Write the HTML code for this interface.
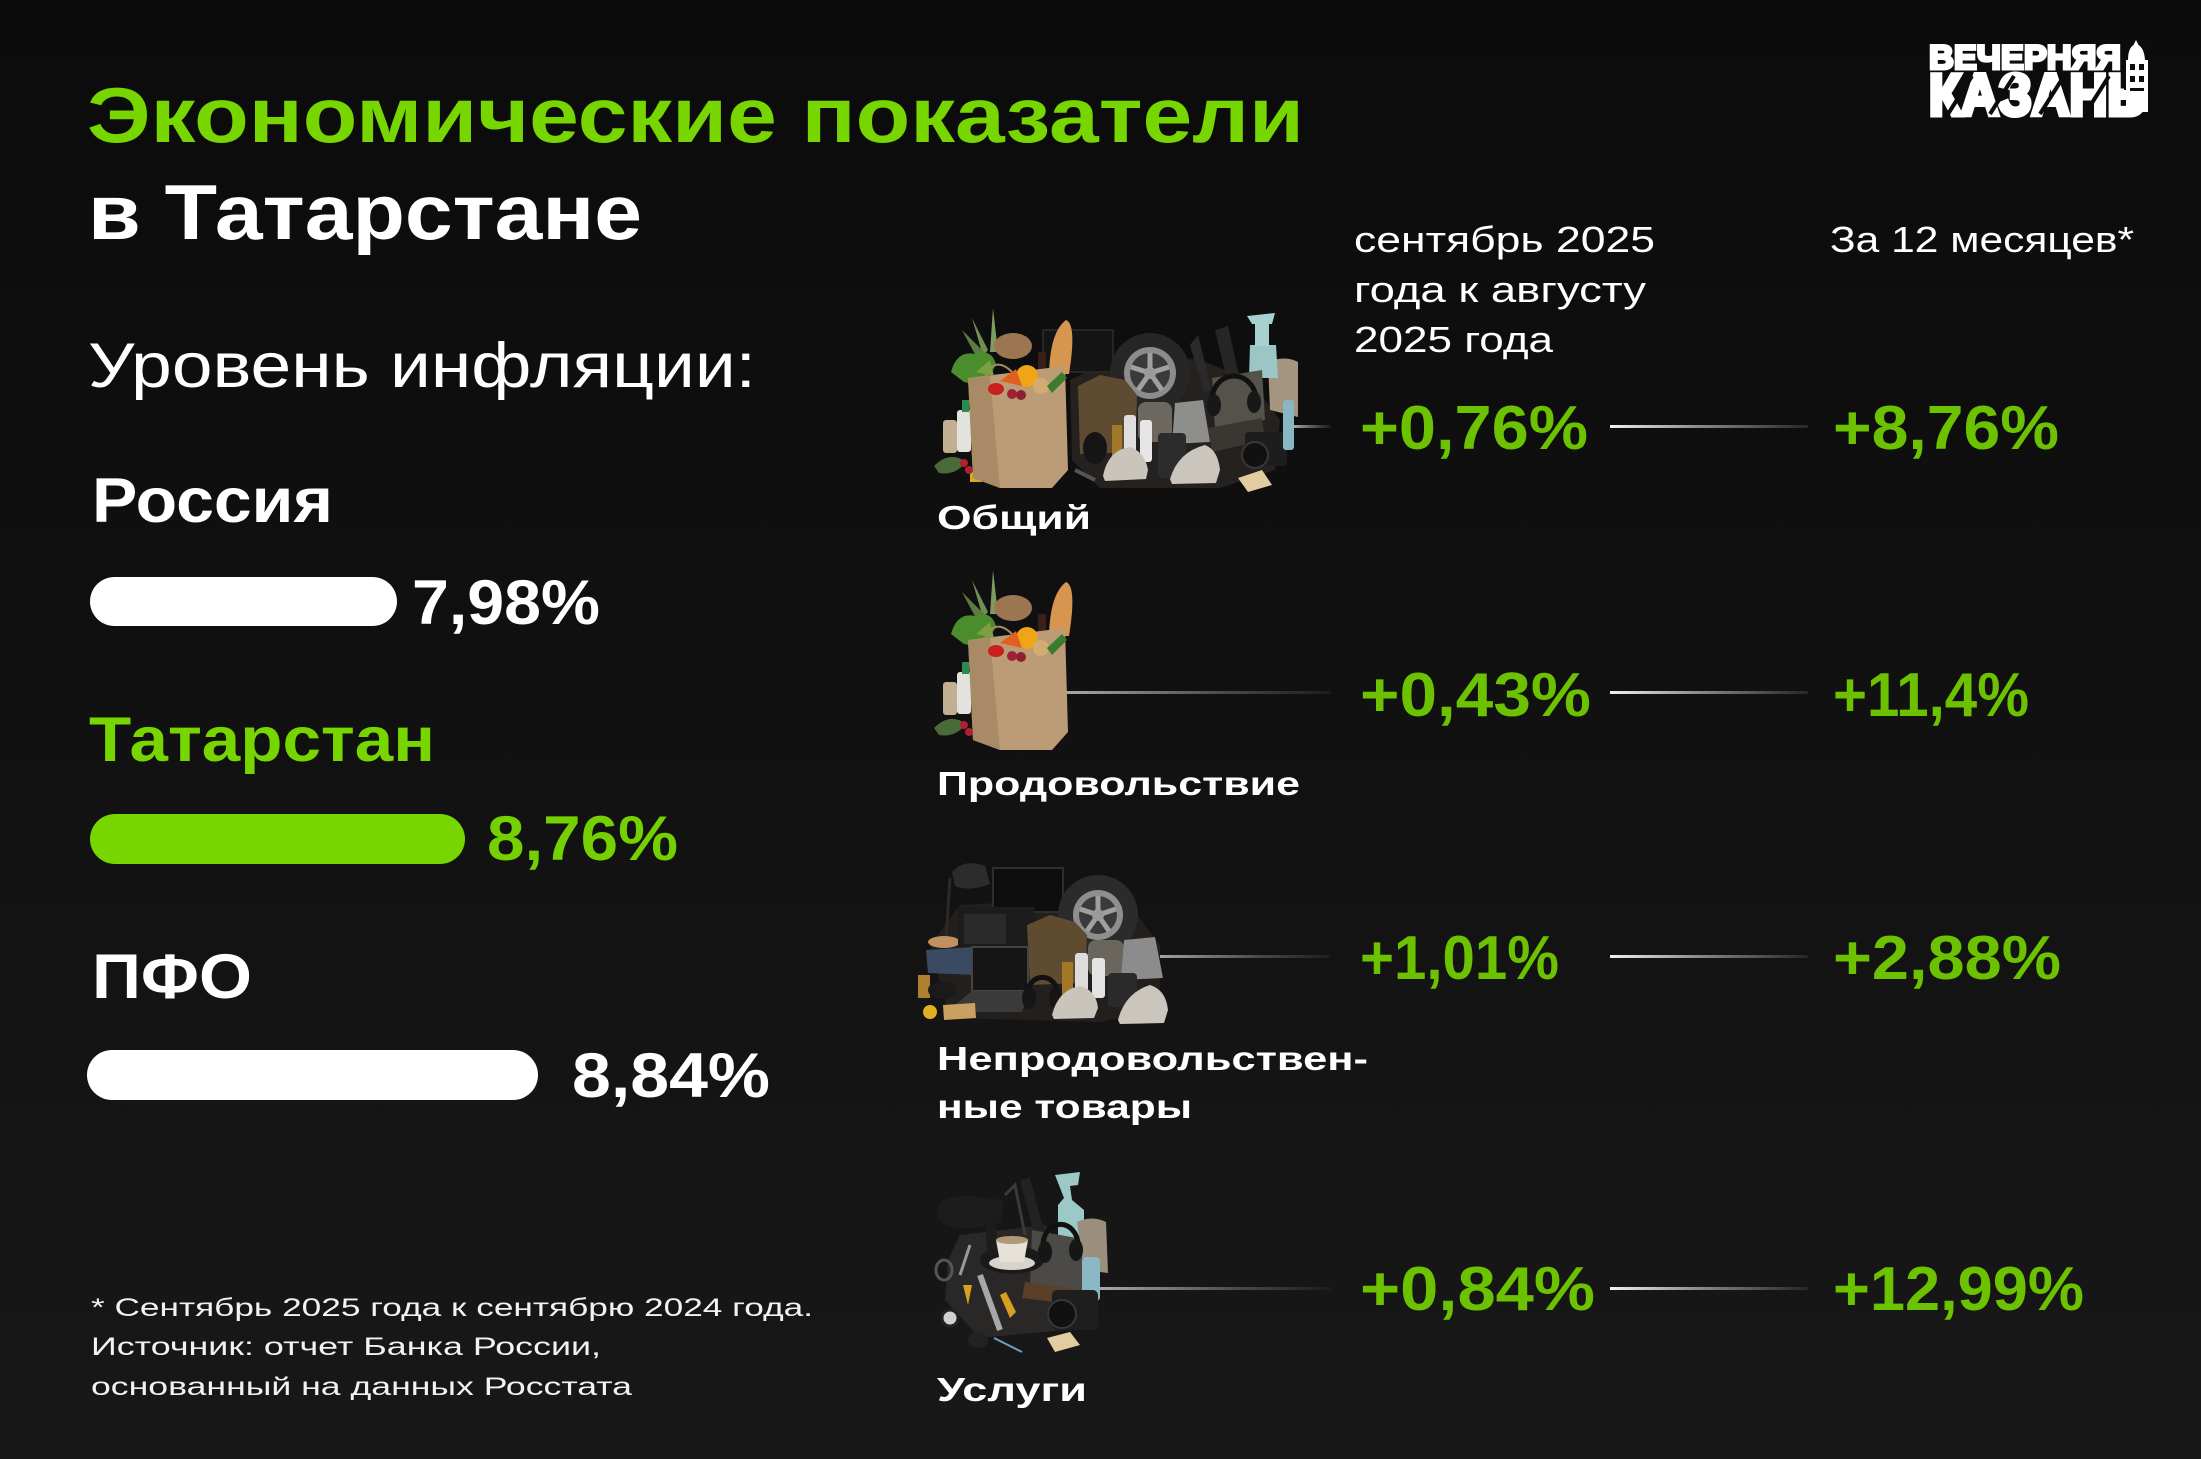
<!DOCTYPE html>
<html>
<head>
<meta charset="utf-8">
<style>
html,body{margin:0;padding:0;background:#0f0f0f;}
svg{display:block;}
text{font-family:"Liberation Sans","DejaVu Sans",sans-serif;}
.b{font-weight:bold;}
</style>
</head>
<body>
<svg width="2201" height="1459" viewBox="0 0 2201 1459" xmlns="http://www.w3.org/2000/svg">
<defs>
  <linearGradient id="bg" x1="0" y1="0" x2="0" y2="1">
    <stop offset="0" stop-color="#0b0b0b"/>
    <stop offset="0.5" stop-color="#111111"/>
    <stop offset="1" stop-color="#181818"/>
  </linearGradient>
  <linearGradient id="lr" x1="0" y1="0" x2="1" y2="0">
    <stop offset="0" stop-color="#f2f2f2"/>
    <stop offset="0.45" stop-color="#8a8a8a"/>
    <stop offset="1" stop-color="#262626"/>
  </linearGradient>
  <linearGradient id="ll" x1="0" y1="0" x2="1" y2="0">
    <stop offset="0" stop-color="#a8a8a8"/>
    <stop offset="0.6" stop-color="#4a4a4a"/>
    <stop offset="1" stop-color="#1c1c1c"/>
  </linearGradient>
  <g id="food">
    <path d="M983 356 L972 318 L988 350 Z" fill="#6f8f52"/>
    <path d="M990 352 L993 308 L998 352 Z" fill="#7c9c62"/>
    <path d="M978 360 L962 330 L984 352 Z" fill="#5c7a44"/>
    <ellipse cx="1013" cy="346" rx="19" ry="13" fill="#9c7650"/>
    <path d="M1049 374 Q1050 332 1066 320 Q1077 324 1069 374 Z" fill="#d69650"/>
    <rect x="1038" y="352" width="8" height="26" fill="#3a2018"/>
    <path d="M951 372 Q957 350 975 354 Q991 348 996 364 Q986 388 964 382 Z" fill="#4b8c2c"/>
    <rect x="943" y="420" width="14" height="33" rx="3" fill="#c2ae90"/>
    <rect x="957" y="410" width="14" height="42" rx="3" fill="#e2e2de"/>
    <rect x="962" y="400" width="7" height="12" fill="#2a8a50"/>
    <path d="M968 378 L1065 366 L1068 470 L1052 488 L1000 488 L973 478 Z" fill="#bb9c76"/>
    <path d="M968 378 L990 376 L1000 488 L973 478 Z" fill="#a88a66"/>
    <path d="M985 377 Q995 355 1012 372" stroke="#a88a66" stroke-width="2" fill="none"/>
    <circle cx="1027" cy="376" r="11" fill="#f0a418"/>
    <circle cx="1041" cy="386" r="8" fill="#d2ac72"/>
    <ellipse cx="996" cy="389" rx="8" ry="6" fill="#c8201c"/>
    <circle cx="1012" cy="394" r="5" fill="#a02038"/>
    <circle cx="1021" cy="395" r="5" fill="#902030"/>
    <path d="M1047 386 L1062 372 L1067 378 L1052 393Z" fill="#3c7a2c"/>
    <path d="M1000 381 L1016 369 L1022 386Z" fill="#e06020"/>
    <path d="M976 372 L990 360 L994 376Z" fill="#7aa040"/>
    <path d="M934 466 Q950 450 966 462 Q955 476 939 473Z" fill="#4a6a3a"/>
    <circle cx="964" cy="463" r="4" fill="#b02030"/>
    <circle cx="969" cy="470" r="4" fill="#b02030"/>
  </g>
</defs>

<rect x="0" y="0" width="2201" height="1459" fill="url(#bg)"/>

<!-- Title -->
<text x="87" y="142" font-size="78" class="b" fill="#77d500" textLength="1217" lengthAdjust="spacingAndGlyphs">Экономические показатели</text>
<text x="88" y="239" font-size="78" class="b" fill="#ffffff" textLength="554" lengthAdjust="spacingAndGlyphs">в Татарстане</text>
<text x="88" y="387" font-size="63" fill="#ffffff" textLength="668" lengthAdjust="spacingAndGlyphs">Уровень инфляции:</text>

<!-- Left bars -->
<text x="92" y="522" font-size="63" class="b" fill="#ffffff" textLength="241" lengthAdjust="spacingAndGlyphs">Россия</text>
<rect x="90" y="577" width="307" height="49" rx="24.5" fill="#ffffff"/>
<text x="412" y="624" font-size="63" class="b" fill="#ffffff" textLength="188" lengthAdjust="spacingAndGlyphs">7,98%</text>

<text x="89" y="761" font-size="63" class="b" fill="#77d500" textLength="346" lengthAdjust="spacingAndGlyphs">Татарстан</text>
<rect x="90" y="814" width="375" height="50" rx="25" fill="#77d500"/>
<text x="487" y="860" font-size="63" class="b" fill="#74d000" textLength="191" lengthAdjust="spacingAndGlyphs">8,76%</text>

<text x="92" y="998" font-size="63" class="b" fill="#ffffff" textLength="160" lengthAdjust="spacingAndGlyphs">ПФО</text>
<rect x="87" y="1050" width="451" height="50" rx="25" fill="#ffffff"/>
<text x="572" y="1097" font-size="63" class="b" fill="#ffffff" textLength="198" lengthAdjust="spacingAndGlyphs">8,84%</text>

<!-- Footnote -->
<text x="91" y="1316" font-size="25" fill="#f2f2f2" textLength="722" lengthAdjust="spacingAndGlyphs">* Сентябрь 2025 года к сентябрю 2024 года.</text>
<text x="91" y="1355" font-size="25" fill="#f2f2f2" textLength="510" lengthAdjust="spacingAndGlyphs">Источник: отчет Банка России,</text>
<text x="91" y="1395" font-size="25" fill="#f2f2f2" textLength="541" lengthAdjust="spacingAndGlyphs">основанный на данных Росстата</text>

<!-- Column headers -->
<text x="1354" y="252" font-size="36" fill="#ffffff" textLength="301" lengthAdjust="spacingAndGlyphs">сентябрь 2025</text>
<text x="1354" y="302" font-size="36" fill="#ffffff" textLength="292" lengthAdjust="spacingAndGlyphs">года к августу</text>
<text x="1354" y="352" font-size="36" fill="#ffffff" textLength="199" lengthAdjust="spacingAndGlyphs">2025 года</text>
<text x="1830" y="252" font-size="36" fill="#ffffff" textLength="304" lengthAdjust="spacingAndGlyphs">За 12 месяцев*</text>

<!-- Logo -->
<text x="1929" y="69" font-size="34" class="b" fill="#ffffff" stroke="#ffffff" stroke-width="3" textLength="192" lengthAdjust="spacingAndGlyphs">ВЕЧЕРНЯЯ</text>
<text x="1929" y="115" font-size="58" class="b" fill="#ffffff" stroke="#ffffff" stroke-width="5" textLength="216" lengthAdjust="spacingAndGlyphs">КАЗАНЬ</text>
<g stroke="#0c0c0c" stroke-width="4">
  <line x1="1948" y1="114" x2="1972" y2="76"/>
  <line x1="1990" y1="114" x2="2014" y2="76"/>
  <line x1="2040" y1="114" x2="2064" y2="76"/>
  <line x1="2085" y1="114" x2="2109" y2="76"/>
</g>
<g>
  <rect x="2124" y="38" width="28" height="52" fill="#0c0c0c"/>
  <path d="M2136 40 L2139 46 L2133 46 Z" fill="#ffffff"/>
  <path d="M2128 60 Q2128 46 2136 44 Q2144 46 2145 60 Z" fill="#ffffff"/>
  <rect x="2126" y="60" width="22" height="52" fill="#ffffff"/>
  <rect x="2130" y="64" width="5" height="6" fill="#0c0c0c"/>
  <rect x="2139" y="64" width="5" height="6" fill="#0c0c0c"/>
  <rect x="2130" y="76" width="5" height="6" fill="#0c0c0c"/>
  <rect x="2139" y="76" width="5" height="6" fill="#0c0c0c"/>
  <rect x="2130" y="88" width="14" height="3" fill="#0c0c0c"/>
</g>

<!-- Connector lines -->
<rect x="1294" y="425" width="37" height="3" fill="url(#ll)"/>
<rect x="1066" y="691" width="265" height="3" fill="url(#ll)"/>
<rect x="1153" y="955" width="178" height="3" fill="url(#ll)"/>
<rect x="1099" y="1287" width="232" height="3" fill="url(#ll)"/>
<rect x="947" y="1286" width="13" height="3" fill="#e0e0e0"/>

<rect x="1610" y="425" width="198" height="3" fill="url(#lr)"/>
<rect x="1610" y="691" width="198" height="3" fill="url(#lr)"/>
<rect x="1610" y="955" width="198" height="3" fill="url(#lr)"/>
<rect x="1610" y="1287" width="198" height="3" fill="url(#lr)"/>

<!-- Values -->
<g class="b" font-size="62" fill="#6cc200">
  <text x="1360" y="449" class="b" textLength="228" lengthAdjust="spacingAndGlyphs">+0,76%</text>
  <text x="1833" y="449" class="b" textLength="226" lengthAdjust="spacingAndGlyphs">+8,76%</text>
  <text x="1360" y="716" class="b" textLength="231" lengthAdjust="spacingAndGlyphs">+0,43%</text>
  <text x="1833" y="716" class="b" textLength="196" lengthAdjust="spacingAndGlyphs">+11,4%</text>
  <text x="1360" y="979" class="b" textLength="199" lengthAdjust="spacingAndGlyphs">+1,01%</text>
  <text x="1833" y="979" class="b" textLength="228" lengthAdjust="spacingAndGlyphs">+2,88%</text>
  <text x="1360" y="1310" class="b" textLength="235" lengthAdjust="spacingAndGlyphs">+0,84%</text>
  <text x="1833" y="1310" class="b" textLength="251" lengthAdjust="spacingAndGlyphs">+12,99%</text>
</g>

<!-- Category labels -->
<g font-size="33" fill="#ffffff">
  <text x="937" y="529" class="b" textLength="154" lengthAdjust="spacingAndGlyphs">Общий</text>
  <text x="937" y="795" class="b" textLength="363" lengthAdjust="spacingAndGlyphs">Продовольствие</text>
  <text x="937" y="1070" class="b" textLength="431" lengthAdjust="spacingAndGlyphs">Непродовольствен-</text>
  <text x="937" y="1118" class="b" textLength="255" lengthAdjust="spacingAndGlyphs">ные товары</text>
  <text x="937" y="1401" class="b" textLength="150" lengthAdjust="spacingAndGlyphs">Услуги</text>
</g>

<!-- Image 1: general -->
<g>
  <path d="M1070 380 L1130 350 L1200 360 L1250 380 L1280 420 L1275 470 L1220 488 L1100 488 L1072 460Z" fill="#24211e"/>
  <rect x="1043" y="330" width="70" height="42" fill="#141414" stroke="#262626" stroke-width="2"/>
  <circle cx="1150" cy="373" r="40" fill="#262626"/>
  <circle cx="1150" cy="373" r="26" fill="#8c8c8c"/>
  <circle cx="1150" cy="373" r="20" fill="#3a3a3a"/>
  <g stroke="#a0a0a0" stroke-width="5">
    <line x1="1150" y1="373" x2="1150" y2="353"/>
    <line x1="1150" y1="373" x2="1169" y2="367"/>
    <line x1="1150" y1="373" x2="1162" y2="390"/>
    <line x1="1150" y1="373" x2="1138" y2="390"/>
    <line x1="1150" y1="373" x2="1131" y2="367"/>
  </g>
  <circle cx="1150" cy="373" r="6" fill="#9a9a9a"/>
  <path d="M1190 345 L1198 335 L1212 390 L1204 392Z" fill="#2a2a2a"/>
  <path d="M1215 330 L1228 326 L1240 380 L1228 384Z" fill="#262626"/>
  <path d="M1268 362 Q1285 355 1298 362 L1298 417 L1270 410Z" fill="#a39580"/>
  <path d="M1250 345 L1276 345 L1278 378 L1249 378Z" fill="#9cc6c6"/>
  <rect x="1255" y="322" width="14" height="24" fill="#a8d0d0"/>
  <path d="M1247 316 L1275 313 L1272 324 L1252 324Z" fill="#a8d0d0"/>
  <path d="M1212 378 L1262 370 L1265 420 L1215 430Z" fill="#55524c"/>
  <path d="M1208 428 L1262 418 L1265 440 L1212 452Z" fill="#3a3632"/>
  <path d="M1212 400 A22 24 0 0 1 1256 400" stroke="#111" stroke-width="5" fill="none"/>
  <ellipse cx="1214" cy="405" rx="7" ry="11" fill="#181818"/>
  <ellipse cx="1254" cy="402" rx="7" ry="11" fill="#181818"/>
  <path d="M1078 386 L1100 375 L1125 380 L1137 395 L1135 452 L1080 454 Z" fill="#5e4b32"/>
  <rect x="1138" y="402" width="34" height="40" rx="8" fill="#6c6860"/>
  <path d="M1175 403 L1203 400 L1210 442 L1172 444Z" fill="#8e8e8c"/>
  <rect x="1112" y="425" width="10" height="33" fill="#a07828"/>
  <rect x="1124" y="415" width="12" height="45" rx="3" fill="#dedede"/>
  <rect x="1140" y="420" width="12" height="42" rx="3" fill="#e6e6e6"/>
  <ellipse cx="1095" cy="448" rx="12" ry="16" fill="#151515"/>
  <rect x="1158" y="433" width="28" height="45" rx="4" fill="#2c2c2c"/>
  <path d="M1103 476 Q1108 450 1130 447 Q1145 452 1148 470 L1146 479 L1105 481Z" fill="#c9c5bd"/>
  <path d="M1170 479 Q1178 452 1205 445 Q1218 450 1220 470 L1216 483 L1172 484Z" fill="#cac6be"/>
  <rect x="1245" y="432" width="42" height="34" rx="4" fill="#1d1d1d"/>
  <circle cx="1255" cy="455" r="13" fill="#111" stroke="#383838" stroke-width="2"/>
  <rect x="1283" y="400" width="11" height="50" rx="3" fill="#88b6c2"/>
  <path d="M1238 478 L1262 470 L1272 485 L1248 492Z" fill="#e2cda0"/>
  <line x1="1075" y1="470" x2="1095" y2="480" stroke="#555" stroke-width="4"/>
  <rect x="970" y="468" width="12" height="14" fill="#d8a820"/>
  <use href="#food"/>
</g>

<!-- Image 2: food -->
<use href="#food" transform="translate(0,262)"/>

<!-- Image 3: non-food -->
<g>
  <path d="M930 945 L960 905 L1060 900 L1130 905 L1160 945 L1160 1010 L1100 1022 L950 1018Z" fill="#221f1c"/>
  <line x1="946" y1="940" x2="950" y2="878" stroke="#2a2a2a" stroke-width="3"/>
  <path d="M952 872 Q965 858 985 866 L990 884 Q970 892 955 886Z" fill="#2c2c2c"/>
  <ellipse cx="944" cy="942" rx="16" ry="6" fill="#c09060"/>
  <rect x="993" y="868" width="70" height="44" fill="#0e0e0e" stroke="#2e2e2e" stroke-width="2"/>
  <rect x="958" y="907" width="77" height="43" fill="#1c1c1c"/>
  <rect x="964" y="914" width="42" height="30" fill="#2a2a2a"/>
  <circle cx="1098" cy="915" r="40" fill="#2b2b2b"/>
  <circle cx="1098" cy="915" r="25" fill="#8e8e8e"/>
  <circle cx="1098" cy="915" r="19" fill="#3a3a3a"/>
  <g stroke="#a0a0a0" stroke-width="5">
    <line x1="1098" y1="915" x2="1098" y2="896"/>
    <line x1="1098" y1="915" x2="1116" y2="909"/>
    <line x1="1098" y1="915" x2="1109" y2="931"/>
    <line x1="1098" y1="915" x2="1087" y2="931"/>
    <line x1="1098" y1="915" x2="1080" y2="909"/>
  </g>
  <circle cx="1098" cy="915" r="6" fill="#9a9a9a"/>
  <path d="M926 950 L975 947 L975 975 L928 973Z" fill="#3a4a62"/>
  <path d="M1027 925 L1050 915 L1075 922 L1087 935 L1085 983 L1030 985Z" fill="#5e4b30"/>
  <rect x="1088" y="940" width="36" height="36" rx="8" fill="#6a665e"/>
  <path d="M1124 940 L1155 937 L1163 978 L1121 980Z" fill="#8c8c8c"/>
  <rect x="972" y="947" width="56" height="44" fill="#151515" stroke="#444" stroke-width="2"/>
  <path d="M972 991 L1030 991 L1022 1012 L946 1012Z" fill="#3a3a3a"/>
  <path d="M1027 995 A15 17 0 0 1 1058 995" stroke="#111" stroke-width="5" fill="none"/>
  <ellipse cx="1029" cy="998" rx="7" ry="11" fill="#161616"/>
  <ellipse cx="1056" cy="998" rx="7" ry="11" fill="#161616"/>
  <rect x="1062" y="962" width="11" height="36" fill="#a07828"/>
  <rect x="1075" y="953" width="13" height="45" rx="3" fill="#dcdcdc"/>
  <rect x="1092" y="958" width="13" height="40" rx="3" fill="#e4e4e4"/>
  <rect x="1108" y="973" width="29" height="34" rx="4" fill="#2a2a2a"/>
  <path d="M1052 1015 Q1058 990 1080 986 Q1096 990 1098 1008 L1094 1018 L1054 1019Z" fill="#c9c5bd"/>
  <path d="M1118 1020 Q1125 993 1150 985 Q1166 990 1168 1010 L1164 1023 L1120 1024Z" fill="#cac6be"/>
  <rect x="918" y="975" width="12" height="23" fill="#b08030"/>
  <ellipse cx="942" cy="990" rx="14" ry="9" fill="#1a1a1a"/>
  <circle cx="930" cy="1012" r="7" fill="#e0b020"/>
  <path d="M943 1005 L975 1003 L976 1018 L944 1020Z" fill="#c8a060"/>
</g>

<!-- Image 4: services -->
<g>
  <path d="M960 1235 L1045 1225 L1070 1260 L1065 1330 L980 1338 L945 1300 L948 1260Z" fill="#2a2826"/>
  <path d="M1055 1175 L1080 1172 L1078 1185 L1070 1186 L1072 1200 L1084 1210 L1084 1238 L1058 1238 L1058 1205 L1064 1198Z" fill="#9cc8c8"/>
  <path d="M1020 1180 L1030 1178 L1045 1235 L1035 1238Z" fill="#222"/>
  <path d="M1032 1230 L1088 1240 L1082 1292 L1030 1285Z" fill="#4c4a46"/>
  <path d="M1025 1282 L1082 1290 L1078 1305 L1022 1298Z" fill="#5a4028"/>
  <path d="M1077 1222 Q1092 1215 1106 1222 L1108 1273 L1084 1270Z" fill="#9a8e7c"/>
  <path d="M937 1210 Q940 1195 970 1196 L1003 1200 L1002 1222 L975 1228 Q945 1230 937 1218Z" fill="#1c1c1c"/>
  <path d="M985 1222 L995 1222 L1000 1255 L988 1256Z" fill="#1c1c1c"/>
  <path d="M1005 1195 L1015 1185 L1025 1235" stroke="#3a3a3a" stroke-width="3" fill="none"/>
  <ellipse cx="1012" cy="1260" rx="32" ry="14" fill="#1a1a1a"/>
  <ellipse cx="1012" cy="1263" rx="23" ry="7" fill="#d8d4cc"/>
  <path d="M996 1240 L1028 1240 L1024 1262 L1000 1262Z" fill="#e6e2da"/>
  <ellipse cx="1012" cy="1240" rx="16" ry="4" fill="#b09878"/>
  <path d="M1043 1245 A17 20 0 0 1 1078 1245" stroke="#111" stroke-width="5" fill="none"/>
  <ellipse cx="1045" cy="1252" rx="7" ry="11" fill="#161616"/>
  <ellipse cx="1076" cy="1250" rx="7" ry="11" fill="#161616"/>
  <rect x="1082" y="1257" width="18" height="44" rx="4" fill="#8ab8c4"/>
  <rect x="1052" y="1290" width="46" height="40" rx="5" fill="#1e1e1e"/>
  <circle cx="1062" cy="1314" r="14" fill="#111" stroke="#383838" stroke-width="2"/>
  <line x1="980" y1="1275" x2="1000" y2="1330" stroke="#a8a8a8" stroke-width="6"/>
  <path d="M963 1285 L968 1305 L972 1285Z" fill="#d8a020"/>
  <path d="M1000 1295 L1010 1318 L1016 1312 L1006 1292Z" fill="#d8a020"/>
  <path d="M960 1275 L970 1245" stroke="#999" stroke-width="3"/>
  <ellipse cx="944" cy="1270" rx="8" ry="10" fill="none" stroke="#555" stroke-width="3"/>
  <circle cx="950" cy="1318" r="8" fill="#d0d0d0" stroke="#222" stroke-width="3"/>
  <ellipse cx="978" cy="1340" rx="10" ry="8" fill="#222"/>
  <path d="M1047 1338 L1070 1332 L1080 1345 L1055 1352Z" fill="#e2cda0"/>
  <line x1="994" y1="1338" x2="1022" y2="1352" stroke="#6aa0c0" stroke-width="2"/>
</g>
</svg>
</body>
</html>
